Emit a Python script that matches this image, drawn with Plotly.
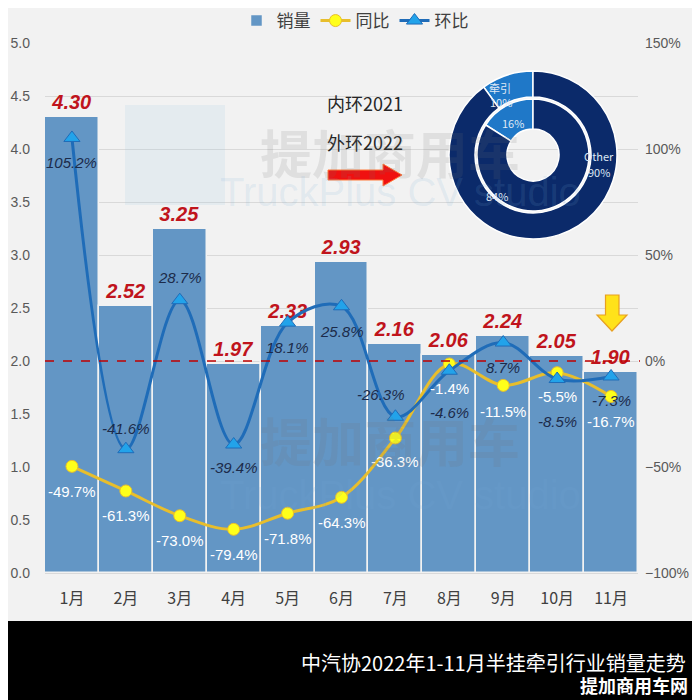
import plotly.graph_objects as go

months = ["1月", "2月", "3月", "4月", "5月", "6月", "7月", "8月", "9月", "10月", "11月"]
sales = [4.30, 2.52, 3.25, 1.97, 2.33, 2.93, 2.16, 2.06, 2.24, 2.05, 1.90]
yoy = [-49.7, -61.3, -73.0, -79.4, -71.8, -64.3, -36.3, -1.4, -11.5, -5.5, -16.7]
mom = [105.2, -41.6, 28.7, -39.4, 18.1, 25.8, -26.3, -4.6, 8.7, -8.5, -7.3]
mom_shift = [-25, 21, 23, -23, -25, -25, 22, -42, -25, -42, -24]
mom_xshift = [0, 0, 0, 0, 0, 0, -14, 0, 0, 0, 0]
yoy_shift = [-25, -25, -25, -25, -25, -25, -24, -25, -26, -24, -25]

pie_labels = ["牵引", "Other"]
pie_2022 = [10, 90]
pie_2021 = [16, 84]

# the page body has an 8px margin, so the figure is drawn 8px right/down
OFF = 8
W, H = 700 - OFF, 700 - OFF
L, R, T, B = 45 - OFF, 62, 43 - OFF, 127
PW, PH = W - L - R, H - T - B


def px(x):  # screen x -> paper x
    return (x - OFF - L) / PW


def py(y):  # screen y -> paper y
    return (H - B - (y - OFF)) / PH


NUM_FONT = "Liberation Sans Narrow, Arial Narrow, Liberation Sans, Noto Sans CJK SC"
CJK_FONT = "Noto Sans CJK SC"

BAR_COLOR = "#6396c5"
NAVY = "#0b2a6a"
MID_BLUE = "#1f78c8"

fig = go.Figure()

fig.add_trace(go.Bar(
    x=months, y=sales, name="销量",
    marker=dict(color=BAR_COLOR, line=dict(color="#f2f2f2", width=1.5)),
    text=[f"{v:.2f}" for v in sales], textposition="outside",
    textfont=dict(color="#c0141c", size=20, family=NUM_FONT, style="italic", weight="bold"),
    cliponaxis=False,
))

fig.add_trace(go.Scatter(
    x=months, y=yoy, name="同比", yaxis="y2", mode="lines+markers",
    line=dict(color="#e8be2c", width=3, shape="spline"),
    marker=dict(symbol="circle", size=12, color="#ffff1a", line=dict(color="#e8be2c", width=1)),
))

fig.add_trace(go.Scatter(
    x=months, y=mom, name="环比", yaxis="y2", mode="lines+markers",
    line=dict(color="#1f6cb8", width=3, shape="spline"),
    marker=dict(symbol="triangle-up", size=14, color="#22a3ea", line=dict(color="#1f6cb8", width=1)),
))

# donut: outer ring 2022, inner ring 2021
cx, cy = 533, 155
ro, ri = 84, 56
fig.add_trace(go.Pie(
    labels=pie_labels, values=pie_2022, sort=False, direction="clockwise", rotation=-36,
    hole=58 / 84, textinfo="none", showlegend=False, hoverinfo="label+percent",
    marker=dict(colors=[MID_BLUE, NAVY], line=dict(color="white", width=1.5)),
    domain=dict(x=[px(cx - ro), px(cx + ro)], y=[py(cy + ro), py(cy - ro)]),
))
fig.add_trace(go.Pie(
    labels=pie_labels, values=pie_2021, sort=False, direction="clockwise", rotation=-57.6,
    hole=26 / 56, textinfo="none", showlegend=False, hoverinfo="label+percent",
    marker=dict(colors=[MID_BLUE, NAVY], line=dict(color="white", width=1.5)),
    domain=dict(x=[px(cx - ri), px(cx + ri)], y=[py(cy + ri), py(cy - ri)]),
))

ann = []
for m, v, s, xs in zip(months, mom, mom_shift, mom_xshift):
    ann.append(dict(x=m, y=v, yref="y2", xref="x", text=f"{v:.1f}%", showarrow=False,
                    yshift=s, xshift=xs, xanchor="center", yanchor="middle",
                    font=dict(color="#1c2b4a", size=15, family=NUM_FONT, style="italic")))
for m, v, s in zip(months, yoy, yoy_shift):
    ann.append(dict(x=m, y=v, yref="y2", xref="x", text=f"{v:.1f}%", showarrow=False,
                    yshift=s, xanchor="center", yanchor="middle",
                    font=dict(color="white", size=15, family=NUM_FONT)))


def paper_text(x, y, text, size, color, xanchor="center", family=CJK_FONT):
    return dict(x=px(x), y=py(y), xref="paper", yref="paper", text=text, showarrow=False,
                xanchor=xanchor, yanchor="middle",
                font=dict(color=color, size=size, family=family))


# pie labels
pie_text = [
    (500, 88, pie_labels[0]), (501, 102, f"{pie_2022[0]}%"),
    (513, 123, f"{pie_2021[0]}%"),
    (599, 156, pie_labels[1]), (599, 172, f"{pie_2022[1]}%"),
    (497, 196, f"{pie_2021[1]}%"),
]
for x, y, t in pie_text:
    ann.append(paper_text(x, y, t, 11, "#dfe8f5"))

ann += [
    paper_text(365, 103, "内环2021", 18, "#262626"),
    paper_text(365, 142, "外环2022", 18, "#262626"),
    paper_text(688, 662, "中汽协2022年1-11月半挂牵引行业销量走势", 20, "white", xanchor="right"),
    paper_text(690, 685, "<b>提加商用车网</b>", 18, "white", xanchor="right"),
]

# faint watermark
for (wx, wy1, wy2) in [(390, 152, 192), (390, 440, 495)]:
    ann.append(paper_text(wx, wy1, "<b>提加商用车</b>", 52, "rgba(110,110,110,0.14)"))
    ann.append(paper_text(wx + 10, wy2, "TruckPlus CV studio", 40, "rgba(120,170,215,0.14)",
                          family="Liberation Sans"))

shapes = [
    # bottom black band
    dict(type="rect", xref="paper", yref="paper", x0=px(0), x1=px(710), y0=py(710), y1=py(621),
         fillcolor="black", line=dict(width=0), layer="above"),
    # red dashed reference line at 2.0
    dict(type="line", xref="paper", yref="y", x0=0, x1=px(640), y0=2, y1=2,
         line=dict(color="#c00000", width=1.6, dash="dash"), layer="above"),
    # red right arrow
    dict(type="path", xref="paper", yref="paper",
         path=(f"M {px(328)},{py(170)} L {px(383)},{py(170)} L {px(383)},{py(164)} "
               f"L {px(402)},{py(175)} L {px(383)},{py(186)} L {px(383)},{py(180)} "
               f"L {px(328)},{py(180)} Z"),
         fillcolor="#f01010", line=dict(color="#ff7a3a", width=1), layer="above"),
    # yellow down arrow
    dict(type="path", xref="paper", yref="paper",
         path=(f"M {px(605.5)},{py(295)} L {px(619)},{py(295)} L {px(619)},{py(315)} "
               f"L {px(627)},{py(315)} L {px(612)},{py(331)} L {px(597)},{py(315)} "
               f"L {px(605.5)},{py(315)} Z"),
         fillcolor="#ffe21a", line=dict(color="#e8a020", width=1.2), layer="above"),
    # logo watermark square
    dict(type="rect", xref="paper", yref="paper", x0=px(125), x1=px(225), y0=py(205), y1=py(105),
         fillcolor="rgba(150,200,230,0.14)", line=dict(width=0), layer="above"),
]

fig.update_layout(
    width=W, height=H,
    margin=dict(l=L, r=R, t=T, b=B, autoexpand=False),
    paper_bgcolor="#f2f2f2", plot_bgcolor="#f2f2f2",
    bargap=0,
    showlegend=True,
    legend=dict(orientation="h", x=px(355), xanchor="center", y=py(21), yanchor="middle",
                font=dict(size=17, color="#404040", family=CJK_FONT), bgcolor="rgba(0,0,0,0)",
                itemwidth=30, traceorder="normal"),
    xaxis=dict(type="category", range=[-0.5, len(months) - 0.5],
               tickfont=dict(size=16, color="#404040", family=CJK_FONT),
               showgrid=False, showline=False, ticks="", ticklabelstandoff=14, automargin=False),
    yaxis=dict(range=[0, 5], dtick=0.5, tickformat=".1f", showgrid=True, gridcolor="#d9d9d9",
               gridwidth=1, zeroline=True, zerolinecolor="#d9d9d9",
               tickfont=dict(size=14, color="#595959", family=NUM_FONT), ticks="",
               ticklabelstandoff=14, automargin=False),
    yaxis2=dict(range=[-100, 150], dtick=50, ticksuffix="%", overlaying="y", side="right",
                showgrid=False, zeroline=False,
                tickfont=dict(size=14, color="#595959", family=NUM_FONT), ticks="",
                ticklabelstandoff=6, automargin=False),
    annotations=ann,
    shapes=shapes,
    font=dict(family=CJK_FONT),
)

fig.write_html("out.html")
